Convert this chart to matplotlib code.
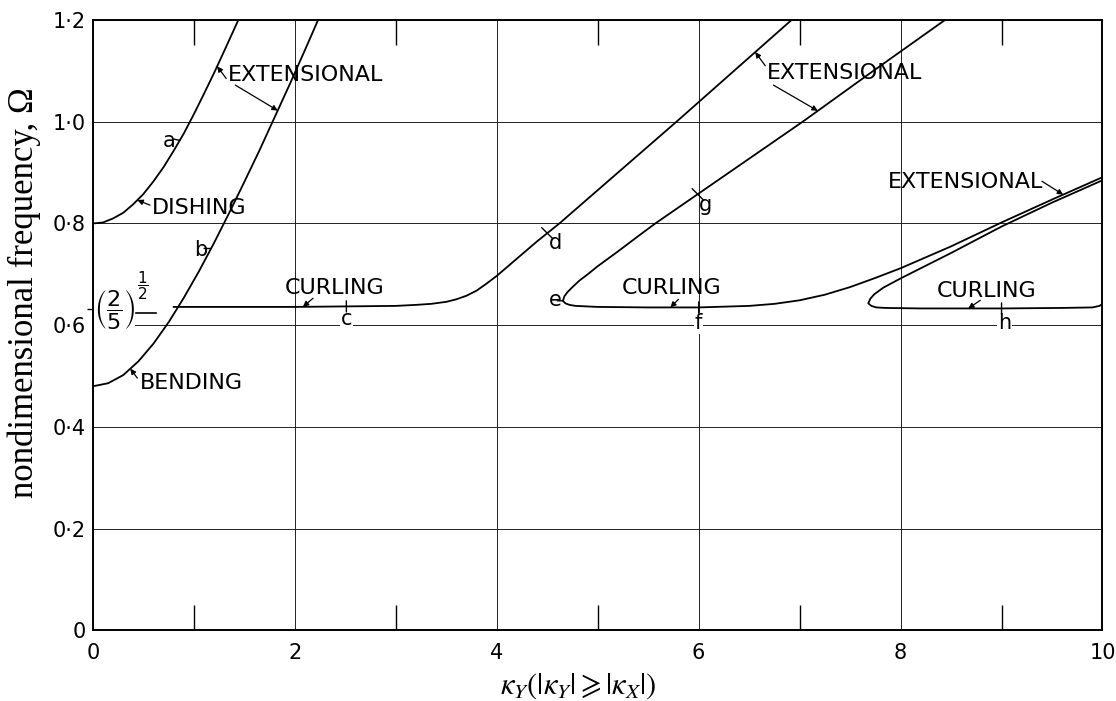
import matplotlib
matplotlib.use('Agg')
import matplotlib.pyplot as plt
import numpy as np

plt.rcParams['font.family'] = 'DejaVu Sans'

# --- branch data: kappa_Y against nondimensional frequency Omega
dish_x = [0.0, 0.1, 0.2, 0.3, 0.4, 0.5, 0.6, 0.7, 0.8, 0.9, 1.0, 1.1, 1.2, 1.3, 1.44]
dish_y = [0.800, 0.802, 0.810, 0.821, 0.838, 0.858, 0.883, 0.911, 0.943, 0.977,
          1.015, 1.055, 1.096, 1.139, 1.200]

bend_x = [0.0, 0.15, 0.3, 0.45, 0.6, 0.75, 0.9, 1.05, 1.2, 1.35, 1.5, 1.65, 1.8, 1.95, 2.1, 2.23]
bend_y = [0.480, 0.486, 0.502, 0.529, 0.564, 0.606, 0.654, 0.706, 0.762, 0.821,
          0.882, 0.944, 1.009, 1.074, 1.141, 1.200]

curl_x = [0.8, 1.5, 2.0, 2.5, 3.0, 3.2, 3.35, 3.5, 3.6, 3.7, 3.8, 3.9, 4.0, 4.2, 4.4, 4.62,
          5.2, 5.78, 6.35, 6.92]
curl_y = [0.636, 0.636, 0.636, 0.637, 0.638, 0.640, 0.642, 0.646, 0.651, 0.658, 0.668,
          0.682, 0.697, 0.731, 0.765, 0.800, 0.900, 1.000, 1.100, 1.200]

# second loop (e-f-g)
loop1_up_x = [4.655, 4.67, 4.70, 4.75, 4.82, 4.90, 5.0, 5.2, 5.4, 5.57, 6.3, 7.03, 7.73, 8.44]
loop1_up_y = [0.648, 0.657, 0.665, 0.675, 0.688, 0.700, 0.716, 0.745, 0.775, 0.800,
              0.900, 1.000, 1.100, 1.200]
loop1_lo_x = [4.655, 4.68, 4.72, 4.78, 5.0, 5.5, 6.0, 6.5, 6.75, 7.0, 7.25, 7.5, 7.75,
              8.0, 8.5, 9.0, 9.5, 10.0]
loop1_lo_y = [0.648, 0.643, 0.640, 0.638, 0.636, 0.635, 0.635, 0.638, 0.642, 0.649,
              0.660, 0.675, 0.693, 0.712, 0.755, 0.802, 0.847, 0.891]

# third loop (h)
loop2_up_x = [7.68, 7.70, 7.74, 7.83, 8.0, 8.5, 9.0, 9.5, 10.0]
loop2_up_y = [0.643, 0.652, 0.661, 0.674, 0.692, 0.742, 0.794, 0.841, 0.885]
loop2_lo_x = [7.68, 7.71, 7.76, 7.85, 8.2, 9.0, 9.6, 9.9, 9.97, 10.0]
loop2_lo_y = [0.643, 0.638, 0.635, 0.634, 0.633, 0.633, 0.634, 0.635, 0.638, 0.642]

xtick_vals = [0, 2, 4, 6, 8, 10]
xtick_text = ['0', '2', '4', '6', '8', '10']
ytick_vals = [0, 0.2, 0.4, 0.6, 0.8, 1.0, 1.2]
ytick_text = ['0', '0·2', '0·4', '0·6', '0·8', '1·0', '1·2']

branches = {
    'dish': (dish_x, dish_y),
    'bend': (bend_x, bend_y),
    'curl': (curl_x, curl_y),
    'l1up': (loop1_up_x, loop1_up_y),
    'l1lo': (loop1_lo_x, loop1_lo_y),
    'l2up': (loop2_up_x, loop2_up_y),
    'l2lo': (loop2_lo_x, loop2_lo_y),
}


def on_curve(name, x):
    bx, by = branches[name]
    return x, float(np.interp(x, bx, by))


fig = plt.figure(figsize=(11.16, 7.01), dpi=100)
ax = fig.add_axes([0.0833, 0.1006, 0.9046, 0.8709])

ax.set_xlim(0, 10)
ax.set_ylim(0, 1.2)

lw = 1.3
ax.plot(dish_x, dish_y, color='k', lw=lw)
ax.plot(bend_x, bend_y, color='k', lw=lw)
ax.plot(curl_x, curl_y, color='k', lw=lw)
ax.plot(loop1_up_x[::-1] + loop1_lo_x, loop1_up_y[::-1] + loop1_lo_y, color='k', lw=lw)
ax.plot(loop2_up_x[::-1] + loop2_lo_x, loop2_up_y[::-1] + loop2_lo_y, color='k', lw=lw)

# axes, grid and ticks
ax.set_xticks(xtick_vals)
ax.set_xticklabels(xtick_text)
ax.set_yticks(ytick_vals)
ax.set_yticklabels(ytick_text)
ax.set_xticks([1, 3, 5, 7, 9], minor=True)
ax.set_yticks([np.sqrt(2 / 5)], minor=True)
ax.grid(True, which='major', color='#222222', lw=0.7)
ax.tick_params(which='major', length=0, labelsize=15)
ax.tick_params(axis='x', which='major', pad=9)
ax.tick_params(axis='y', which='major', pad=5)
ax.tick_params(axis='x', which='minor', direction='in', length=18, width=1,
               top=True, bottom=True)
ax.tick_params(axis='y', which='minor', direction='inout', length=9, width=1)
for s in ax.spines.values():
    s.set_linewidth(1.4)

# branch names with arrows
names = [
    ('EXTENSIONAL', 1.34, 1.091),
    ('DISHING', 0.58, 0.830),
    ('BENDING', 0.466, 0.486),
    ('CURLING', 1.90, 0.673),
    ('EXTENSIONAL', 6.68, 1.095),
    ('CURLING', 5.24, 0.673),
    ('EXTENSIONAL', 7.87, 0.881),
    ('CURLING', 8.36, 0.667),
]
for txt, tx, ty in names:
    ax.text(tx, ty, txt, fontsize=16, ha='left', va='center')

pointers = [
    (1.32, 1.085, 'dish', 1.23),
    (1.41, 1.072, 'bend', 1.83),
    (0.565, 0.836, 'dish', 0.44),
    (0.44, 0.496, 'bend', 0.37),
    (2.18, 0.653, 'curl', 2.08),
    (6.66, 1.110, 'curl', 6.56),
    (6.74, 1.072, 'l1up', 7.18),
    (9.40, 0.883, 'l1lo', 9.61),
    (5.80, 0.651, 'l1lo', 5.72),
    (8.79, 0.649, 'l2lo', 8.67),
]
for sx, sy, name, cx in pointers:
    ax.annotate('', xy=on_curve(name, cx), xytext=(sx, sy),
                arrowprops=dict(arrowstyle='-|>', color='k', lw=0.9,
                                mutation_scale=8, shrinkA=0, shrinkB=0))

# lettered stations along the branches: tick runs from -offset to +offset
stations = [
    ('a', 0.75, 0.962, 'dish', 0.86, (-5, 1), 0),
    ('b', 1.07, 0.748, 'bend', 1.17, (-5, 0), 0),
    ('c', 2.51, 0.612, 'curl', 2.51, (0, 4), 1),
    ('d', 4.58, 0.762, 'curl', 4.50, (-4, 4), 1),
    ('e', 4.58, 0.649, 'l1lo', 4.655, (-4, 0), 0),
    ('f', 6.00, 0.604, 'l1lo', 6.00, (0, 4), 1),
    ('g', 6.07, 0.836, 'l1up', 5.99, (-4, 4), 1),
    ('h', 9.03, 0.604, 'l2lo', 9.00, (0, 4), 1),
]
tick_style = dict(arrowstyle='-', color='k', lw=1, shrinkA=0, shrinkB=0)
for letter, lx, ly, name, cx, (dx, dy), crossing in stations:
    px, py = on_curve(name, cx)
    boxed = letter in ('c', 'f', 'h')
    ax.text(lx, ly, letter, fontsize=15, ha='center', va='center',
            bbox=dict(facecolor='white', edgecolor='none', pad=0.5) if boxed else None)
    ax.annotate('', xy=(px, py), xytext=(dx, dy), textcoords='offset points',
                arrowprops=tick_style)
    if crossing:
        ax.annotate('', xy=(px, py), xytext=(-dx, -dy), textcoords='offset points',
                    arrowprops=tick_style)

# limiting value of the curling branch at kappa_Y = 0
ax.text(0.015, 0.630, r'$\left(\dfrac{2}{5}\right)$', fontsize=16,
        math_fontfamily='dejavusans', ha='left', va='center',
        bbox=dict(facecolor='white', edgecolor='none', pad=0))
ax.text(0.49, 0.677, r'$\dfrac{1}{2}$', fontsize=11,
        math_fontfamily='dejavusans', ha='center', va='center')
ax.plot([0.43, 0.62], [0.625, 0.625], color='k', lw=1.2, zorder=4)

fig.text(24 / 1116, 1 - 293 / 701, 'nondimensional frequency, Ω', rotation=90,
         family='Liberation Serif', fontsize=25, ha='center', va='center')
fig.text(578 / 1116, 1 - 686 / 701, r'$\kappa_Y(|\kappa_Y| \geqslant |\kappa_X|)$',
         math_fontfamily='stix', fontsize=22, ha='center', va='center')

fig.savefig('out.png', dpi=100)
